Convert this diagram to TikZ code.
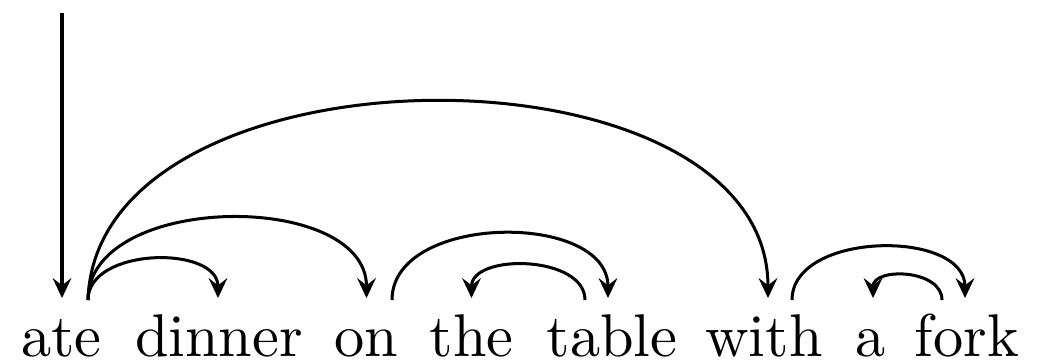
\documentclass[tikz,border=0pt]{standalone}
\usetikzlibrary{arrows.meta,calc}
\begin{document}
\begin{tikzpicture}[x=0.1658pt,y=-0.1658pt,
  word/.style={inner sep=0pt,anchor=base},
  dep/.style={line width=0.5pt,-{Stealth[length=3.3pt,width=3.1pt,inset=1.2pt]}}]
\useasboundingbox (0,0) rectangle (1044,362);
\node[word] (ate)    at (61.5,356) {ate};
\node[word] (dinner) at (219,356)  {dinner};
\node[word] (on)     at (366.5,356){on};
\node[word] (the)    at (471.5,356){the};
\node[word] (table)  at (612,356)  {table};
\node[word] (with)   at (764,356)  {with};
\node[word] (a)      at (871,356)  {a};
\node[word] (fork)   at (967,356)  {fork};
\coordinate (root) at (62,13);
\draw[dep] (root) -- ($(ate.base)+(0.5,-58)$);
% ate -> dinner
\draw[dep] ($(ate.base)+(26.5,-56)$) .. controls +(0,-53) and +(0,-53) .. ($(dinner.base)+(-1,-58)$);
% ate -> on
\draw[dep] ($(ate.base)+(26.5,-56)$) .. controls +(0,-108) and +(0,-108) .. ($(on.base)+(0,-58)$);
% ate -> with
\draw[dep] ($(ate.base)+(26.5,-56)$) .. controls +(8,-263) and +(0,-263) .. ($(with.base)+(4,-58)$);
% on -> table
\draw[dep] ($(on.base)+(25.5,-56)$) .. controls +(0,-87) and +(0,-87) .. ($(table.base)+(-4,-58)$);
% table -> the
\draw[dep] ($(table.base)+(-27,-56)$) .. controls +(0,-45) and +(0,-45) .. ($(the.base)+(0,-58)$);
% with -> fork
\draw[dep] ($(with.base)+(28,-56)$) .. controls +(0,-69) and +(0,-69) .. ($(fork.base)+(-2,-58)$);
% fork -> a
\draw[dep] ($(fork.base)+(-25,-56)$) .. controls +(0,-31) and +(0,-31) .. ($(a.base)+(2,-58)$);
\end{tikzpicture}
\end{document}
